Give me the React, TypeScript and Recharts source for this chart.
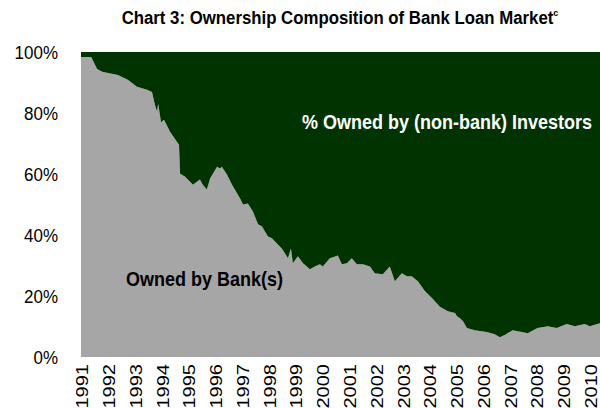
import { Area, AreaChart, XAxis, YAxis } from 'recharts';

// decimal year of each reading
const years = [
  1990.96, 1991.34, 1991.56, 1991.75, 1991.97, 1992.34, 1992.72, 1993.05, 1993.43, 1993.61,
  1993.72, 1993.8, 1993.84, 1993.95, 1994.06, 1994.28, 1994.54, 1994.62, 1994.66, 1994.84,
  1995.14, 1995.4, 1995.51, 1995.66, 1995.78, 1996.04, 1996.15, 1996.22, 1996.41, 1996.6,
  1996.9, 1997.01, 1997.19, 1997.38, 1997.57, 1997.72, 1997.94, 1998.09, 1998.31, 1998.46,
  1998.69, 1998.8, 1998.87, 1999.06, 1999.25, 1999.51, 1999.69, 1999.88, 1999.99, 2000.25,
  2000.37, 2000.55, 2000.7, 2000.89, 2001.07, 2001.26, 2001.49, 2001.75, 2001.93, 2002.23,
  2002.49, 2002.68, 2002.94, 2003.13, 2003.31, 2003.54, 2003.8, 2004.1, 2004.36, 2004.66,
  2004.93, 2005.0, 2005.11, 2005.22, 2005.37, 2005.66, 2006.11, 2006.41, 2006.6, 2006.78,
  2007.08, 2007.42, 2007.64, 2008.01, 2008.39, 2008.72, 2009.1, 2009.4, 2009.77, 2009.96,
  2010.34,
];

// % of the market owned by banks
const bankShare = [
  98.4, 98.4, 94.4, 93.5, 93.1, 92.5, 90.8, 88.6, 87.6, 86.9,
  82.7, 80.4, 83, 77, 77.8, 73.9, 70.6, 69.6, 60.1, 59.2,
  56.5, 58.2, 56.5, 54.9, 58.5, 62.4, 61.8, 62.4, 59.8, 56.5,
  52, 50, 50.3, 47.7, 43.5, 42.8, 39.5, 38.9, 36.9, 35.6,
  32.4, 35.6, 30.7, 33, 30.7, 28.8, 29.7, 30.4, 29.7, 32.4,
  32.7, 33.3, 30.4, 30.7, 32.4, 30.4, 30.4, 29.7, 27.5, 27.1,
  29.7, 24.8, 27.5, 26.5, 26.5, 24.8, 21.6, 19, 16.5, 15,
  14.4, 13.4, 12.7, 11.8, 9.5, 8.8, 8.2, 7.5, 6.5, 7.2,
  8.8, 8.2, 7.8, 9.5, 10.1, 9.5, 10.8, 10.1, 10.8, 10.1,
  11.1,
];

const yearTicks = [
  1991, 1992, 1993, 1994, 1995, 1996, 1997, 1998, 1999, 2000,
  2001, 2002, 2003, 2004, 2005, 2006, 2007, 2008, 2009, 2010,
];
const pctTicks = [0, 20, 40, 60, 80, 100];

const rows = years.map((t, i) => ({
  t,
  bank: bankShare[i],
  investors: +(100 - bankShare[i]).toFixed(1),
}));

const font = '"Liberation Sans", Arial, sans-serif';

function YearTick({ x, y, payload }: any) {
  return (
    <g transform={`translate(${x},${y - 1})`}>
      <text
        transform="rotate(-90) scale(1.18,1)"
        textAnchor="end"
        dy="0.36em"
        fontSize={17}
        fontFamily={font}
        fill="#000"
      >
        {payload.value}
      </text>
    </g>
  );
}

function PctTick({ x, y, payload }: any) {
  return (
    <g transform={`translate(${x},${y})`}>
      <text
        transform="scale(1,1.12)"
        textAnchor="end"
        dy="0.36em"
        fontSize={17}
        fontFamily={font}
        fill="#000"
      >
        {`${payload.value}%`}
      </text>
    </g>
  );
}

const note = {
  position: 'absolute' as const,
  fontWeight: 'bold' as const,
  fontSize: 18,
  whiteSpace: 'nowrap' as const,
  transform: 'scaleY(1.1)',
  transformOrigin: 'left center',
};

export default function App() {
  return (
    <div style={{ position: 'absolute', left: 0, top: 0, width: 600, height: 408, background: '#fff', fontFamily: font }}>
      <div
        style={{
          position: 'absolute',
          left: 0,
          width: 680,
          top: 8,
          textAlign: 'center',
          fontWeight: 'bold',
          fontSize: 16.8,
          color: '#000',
          transform: 'scaleY(1.1)',
        }}
      >
        Chart 3: Ownership Composition of Bank Loan Market<sup style={{ fontSize: 9 }}>c</sup>
      </div>
      <AreaChart
        width={600}
        height={408}
        data={rows}
        margin={{ top: 52, right: 0, left: 0, bottom: 0 }}
      >
        <XAxis
          dataKey="t"
          type="number"
          domain={[1990.96, 2010.34]}
          ticks={yearTicks}
          allowDataOverflow
          axisLine={false}
          tickLine={false}
          height={51}
          interval={0}
          tick={<YearTick />}
        />
        <YAxis
          type="number"
          domain={[0, 100]}
          ticks={pctTicks}
          axisLine={false}
          tickLine={false}
          tickSize={0}
          tickMargin={23}
          width={81}
          tick={<PctTick />}
        />
        <Area
          type="linear"
          dataKey="bank"
          stackId="own"
          stroke="none"
          fill="#A6A6A6"
          fillOpacity={1}
          isAnimationActive={false}
        />
        <Area
          type="linear"
          dataKey="investors"
          stackId="own"
          stroke="none"
          fill="#003300"
          fillOpacity={1}
          isAnimationActive={false}
        />
      </AreaChart>
      <div style={{ ...note, left: 302, top: 112, color: '#fff' }}>
        % Owned by (non-bank) Investors
      </div>
      <div style={{ ...note, left: 126, top: 269, color: '#000' }}>
        Owned by Bank(s)
      </div>
    </div>
  );
}
